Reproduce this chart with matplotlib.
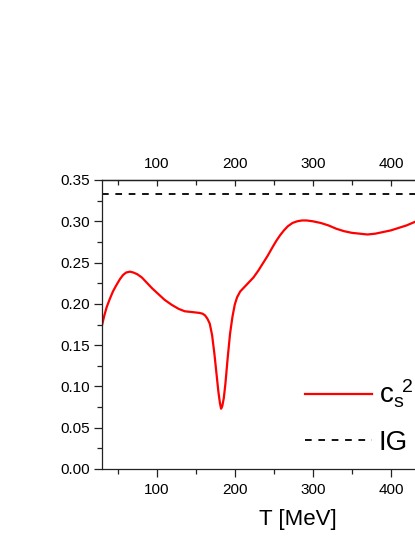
import matplotlib
matplotlib.use("Agg")
import matplotlib.pyplot as plt
from matplotlib.ticker import MultipleLocator

plt.rcParams['font.family'] = ['Liberation Sans', 'DejaVu Sans']
plt.rcParams['mathtext.fontset'] = 'custom'
plt.rcParams['mathtext.rm'] = 'Liberation Sans'
plt.rcParams['mathtext.it'] = 'Liberation Sans'

# speed of sound squared vs temperature
T = [30, 33, 36, 40, 44, 48, 53, 57, 61, 66, 70, 75, 81, 87, 94, 102, 110,
     119, 128, 136, 146, 155, 159, 162, 165, 168, 171, 174, 177, 179, 181,
     182.5, 184, 186, 188, 191, 194, 197, 200, 203, 207, 212, 218, 224, 230,
     236, 242, 248, 253, 258, 263, 268, 274, 280, 286, 292, 300, 310, 320,
     330, 340, 350, 360, 370, 380, 390, 400, 410, 420, 435]
cs2 = [0.174, 0.186, 0.196, 0.206, 0.215, 0.222, 0.230, 0.235, 0.238, 0.239,
       0.238, 0.236, 0.232, 0.226, 0.219, 0.212, 0.205, 0.199, 0.194, 0.191,
       0.190, 0.189, 0.188, 0.186, 0.182, 0.176, 0.162, 0.139, 0.112, 0.094,
       0.080, 0.073, 0.076, 0.086, 0.103, 0.135, 0.164, 0.184, 0.199, 0.208,
       0.215, 0.220, 0.226, 0.232, 0.240, 0.249, 0.258, 0.268, 0.276, 0.283,
       0.289, 0.294, 0.298, 0.300, 0.301, 0.301, 0.300, 0.298, 0.295, 0.291,
       0.288, 0.286, 0.285, 0.284, 0.285, 0.287, 0.289, 0.292, 0.295, 0.301]

# ideal gas limit
ig_T = [30, 532]
ig_value = [1 / 3, 1 / 3]

x_ticks = [100, 200, 300, 400]

W, H = 415, 537
fig = plt.figure(figsize=(W / 100, H / 100), dpi=100)
ax = fig.add_axes([102 / W, 68 / H, 392 / W, 289 / H])

ax.plot(T, cs2, color='#ff0000', lw=1.6, label=r'c$_\mathregular{s}$$^{\!\mathregular{2}}$')
ax.plot(ig_T, ig_value, color='black', lw=1.3, linestyle=(0, (3.7, 3.7)), label='IG')

ax.set_xlim(30, 532)
ax.set_ylim(0, 0.35)
ax.set_xticks(x_ticks)
ax.xaxis.set_minor_locator(MultipleLocator(50))
ax.yaxis.set_major_locator(MultipleLocator(0.05))
ax.yaxis.set_minor_locator(MultipleLocator(0.025))
ax.yaxis.set_major_formatter(plt.FormatStrFormatter('%.2f'))
ax.tick_params(which='major', direction='out', length=5.5, width=0.9, labelsize=11, pad=3, colors='#222222', labelcolor='black')
ax.tick_params(which='minor', direction='out', length=3.5, width=0.9, colors='#222222')
ax.tick_params(axis='x', which='major', pad=4.5)

for s in ax.spines.values():
    s.set_linewidth(0.9)
    s.set_color('#222222')

top = ax.secondary_xaxis('top')
top.set_xticks(x_ticks)
top.xaxis.set_minor_locator(MultipleLocator(50))
top.tick_params(which='major', direction='in', length=4.5, width=0.9, labelsize=11, pad=6.5, colors='#222222', labelcolor='black')
top.tick_params(which='minor', direction='in', length=3.5, width=0.9, colors='#222222')
top.spines['top'].set_linewidth(0.9)

ax.set_xlabel('T [MeV]', fontsize=16, labelpad=9)

leg = ax.legend(loc='upper left', bbox_to_anchor=(305 / W, 1 - 378 / H),
                bbox_transform=fig.transFigure, frameon=False, fontsize=20,
                handlelength=2.4, handletextpad=0.25, labelspacing=0.7,
                borderpad=0, borderaxespad=0)

fig.savefig('out.png', dpi=100)
